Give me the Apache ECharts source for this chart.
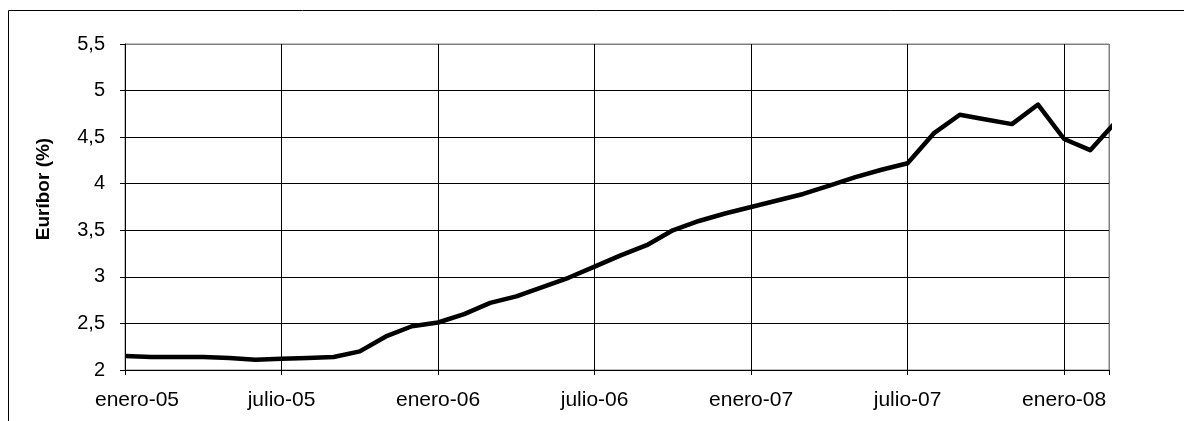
<!DOCTYPE html>
<html>
<head>
<meta charset="utf-8">
<script src="https://cdn.jsdelivr.net/npm/echarts@6/dist/echarts.min.js"></script>
<style>
  html, body { margin: 0; padding: 0; background: #ffffff; }
  #chart { width: 1184px; height: 421px; }
</style>
</head>
<body>
<div id="chart"></div>
<script>
// Months (x = index in this list, 0 = enero-05)
const months = [
  '2005-01','2005-02','2005-03','2005-04','2005-05','2005-06','2005-07','2005-08','2005-09','2005-10','2005-11','2005-12',
  '2006-01','2006-02','2006-03','2006-04','2006-05','2006-06','2006-07','2006-08','2006-09','2006-10','2006-11','2006-12',
  '2007-01','2007-02','2007-03','2007-04','2007-05','2007-06','2007-07','2007-08','2007-09','2007-10','2007-11','2007-12',
  '2008-01','2008-02','2008-03'
];
// Euríbor (%)
const euribor = [
  2.15, 2.14, 2.14, 2.14, 2.13, 2.11, 2.12, 2.13, 2.14, 2.20, 2.36, 2.47,
  2.51, 2.60, 2.72, 2.79, 2.89, 2.99, 3.11, 3.23, 3.34, 3.50, 3.60, 3.68,
  3.75, 3.82, 3.89, 3.98, 4.07, 4.15, 4.22, 4.54, 4.74, 4.69, 4.64, 4.85,
  4.48, 4.36, 4.67
];
// X tick labels and the month index they sit on
const tickMonths = [0, 6, 12, 18, 24, 30, 36];
const tickLabels = ['enero-05', 'julio-05', 'enero-06', 'julio-06', 'enero-07', 'julio-07', 'enero-08'];
// Y axis range
const yMin = 2, yMax = 5.5, yStep = 0.5;
const xMax = 37.72;

const seriesData = euribor.map((v, i) => [i, v]);

const chart = echarts.init(document.getElementById('chart'), null, { renderer: 'canvas' });

const ySplitColors = [];
for (let v = yMin; v <= yMax + 1e-9; v += yStep) ySplitColors.push('#000000');
ySplitColors[ySplitColors.length - 1] = '#808080';
const xSplitColors = tickMonths.map(() => '#000000');
xSplitColors.push('#808080');

chart.setOption({
  animation: false,
  backgroundColor: '#ffffff',
  textStyle: { fontFamily: 'Liberation Sans, Arial, sans-serif' },
  graphic: [{
    type: 'rect',
    shape: { x: 8.5, y: 10.5, width: 1400, height: 600 },
    style: { fill: 'none', stroke: '#000000', lineWidth: 1 },
    silent: true,
    z: -10
  }],
  grid: {
    left: 125, right: 75, top: 44, bottom: 51,
    show: true, borderColor: '#808080', borderWidth: 1,
    backgroundColor: 'transparent',
    containLabel: false
  },
  xAxis: {
    type: 'value',
    min: 0, max: xMax, interval: 6,
    axisLine: { show: true, lineStyle: { color: '#000000', width: 1 } },
    axisTick: { show: true, inside: false, length: 5, lineStyle: { color: '#000000' } },
    axisLabel: {
      margin: 20,
      fontSize: 21,
      color: '#000000',
      fontFamily: 'Liberation Sans, Arial, sans-serif',
      formatter: function (v) {
        const k = tickMonths.indexOf(Math.round(v * 100) / 100);
        if (k < 0) return '';
        return k === 0 ? '{f|' + tickLabels[k] + '}' : tickLabels[k];
      },
      rich: {
        f: { fontSize: 21, color: '#000000', fontFamily: 'Liberation Sans, Arial, sans-serif', padding: [0, 0, 0, 24] }
      }
    },
    splitLine: { show: true, lineStyle: { color: xSplitColors, width: 1 } }
  },
  yAxis: {
    type: 'value',
    min: yMin, max: yMax, interval: yStep,
    name: 'Euríbor (%)',
    nameLocation: 'middle',
    nameRotate: 90,
    nameGap: 72,
    nameTextStyle: {
      fontSize: 19, fontWeight: 'bold', color: '#000000',
      fontFamily: 'Liberation Sans, Arial, sans-serif',
      padding: [0, 0, 0, 36]
    },
    axisLine: { show: true, lineStyle: { color: '#000000', width: 1 } },
    axisTick: { show: true, inside: false, length: 5, lineStyle: { color: '#000000' } },
    axisLabel: {
      margin: 20,
      fontSize: 20,
      color: '#000000',
      fontFamily: 'Liberation Sans, Arial, sans-serif',
      formatter: function (v) { return String(v).replace('.', ','); }
    },
    splitLine: { show: true, lineStyle: { color: ySplitColors, width: 1 } }
  },
  series: [{
    type: 'line',
    data: seriesData,
    symbol: 'none',
    smooth: false,
    clip: true,
    lineStyle: { color: '#000000', width: 4.5, join: 'round' },
    itemStyle: { color: '#000000' }
  }]
});
</script>
</body>
</html>
